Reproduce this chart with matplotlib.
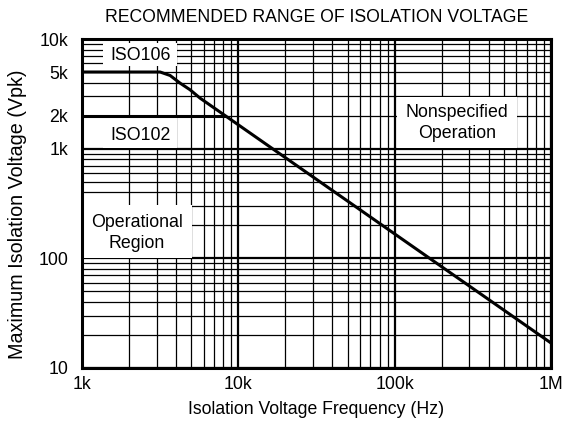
import numpy as np
import matplotlib
matplotlib.use("Agg")
import matplotlib.pyplot as plt
from matplotlib.patches import Rectangle
from matplotlib.ticker import FixedLocator, FuncFormatter, LogLocator

plt.rcParams['font.family'] = ['Liberation Sans', 'DejaVu Sans']

# curves (frequency in Hz, voltage in Vpk)
iso106_freq = [1000, 3160, 3660, 4240, 4910, 5690, 1e6]
iso106_volt = [5000, 5000, 4650, 3960, 3445, 2890, 16.9]
iso102_freq = [1000, 8200]
iso102_volt = [2000, 2000]

x_ticks = [1e3, 1e4, 1e5, 1e6]
x_labels = ["1k", "10k", "100k", "1M"]
y_decades = [10, 100, 1000, 10000]
y_decade_labels = ["10", "100", "1k", "10k"]
y_extra_labels = {2000: "2k", 5000: "5k"}

W, H = 569, 437
fig = plt.figure(figsize=(W / 100, H / 100), dpi=100)
ax = fig.add_axes([82 / W, (H - 368) / H, 469 / W, 329 / H])

ax.set_xscale("log")
ax.set_yscale("log")
ax.set_xlim(1e3, 1e6)
ax.set_ylim(10, 1e4)

# heavy decade grid, light 2..9 grid
ax.xaxis.set_major_locator(FixedLocator(x_ticks))
ax.yaxis.set_major_locator(FixedLocator(y_decades))
ax.xaxis.set_minor_locator(LogLocator(base=10, subs=np.arange(2, 10)))
ax.yaxis.set_minor_locator(LogLocator(base=10, subs=np.arange(2, 10)))
ax.set_xticklabels(x_labels)
ax.set_yticklabels(y_decade_labels)
ax.xaxis.set_minor_formatter(FuncFormatter(lambda v, p: ""))
ax.yaxis.set_minor_formatter(
    FuncFormatter(lambda v, p: y_extra_labels.get(int(round(v)), "")))
ax.grid(which="major", color="black", linewidth=1.6)
ax.grid(which="minor", color="black", linewidth=0.9)
ax.set_axisbelow(True)
ax.tick_params(which="both", length=0, labelsize=12.8)
ax.tick_params(axis="y", which="both", pad=10)
ax.tick_params(axis="x", which="both", pad=6)

for sp in ax.spines.values():
    sp.set_linewidth(2.2)
    sp.set_zorder(5)

# white label boxes (axes fractions)
boxes = [(0.045, 0.918, 0.158, 0.070),
         (0.045, 0.669, 0.158, 0.094),
         (0.0, 0.334, 0.2345, 0.161),
         (0.672, 0.669, 0.256, 0.155)]
for x0, y0, w, h in boxes:
    ax.add_patch(Rectangle((x0, y0), w, h, transform=ax.transAxes,
                           facecolor="white", edgecolor="none", zorder=2))

ax.plot(iso106_freq, iso106_volt, color="black", linewidth=2.2, zorder=3)
ax.plot(iso102_freq, iso102_volt, color="black", linewidth=2.2, zorder=3)

tkw = dict(transform=ax.transAxes, ha="center", va="center", fontsize=12.8,
           linespacing=1.3, zorder=4)
ax.text(0.124, 0.951, "ISO106", **tkw)
ax.text(0.124, 0.708, "ISO102", **tkw)
ax.text(0.117, 0.41, "Operational\nRegion", **tkw)
ax.text(0.80, 0.745, "Nonspecified\nOperation", **tkw)

fig.text(316.5 / W, 1 - 18 / H, "RECOMMENDED RANGE OF ISOLATION VOLTAGE",
         ha="center", va="center", fontsize=12.7)
fig.text(316.5 / W, 1 - 410 / H, "Isolation Voltage Frequency (Hz)",
         ha="center", va="center", fontsize=12.7)
fig.text(18 / W, 1 - 214 / H, "Maximum Isolation Voltage (Vpk)",
         ha="center", va="center", rotation=90, fontsize=14.2)

fig.savefig("out.png", dpi=100)
